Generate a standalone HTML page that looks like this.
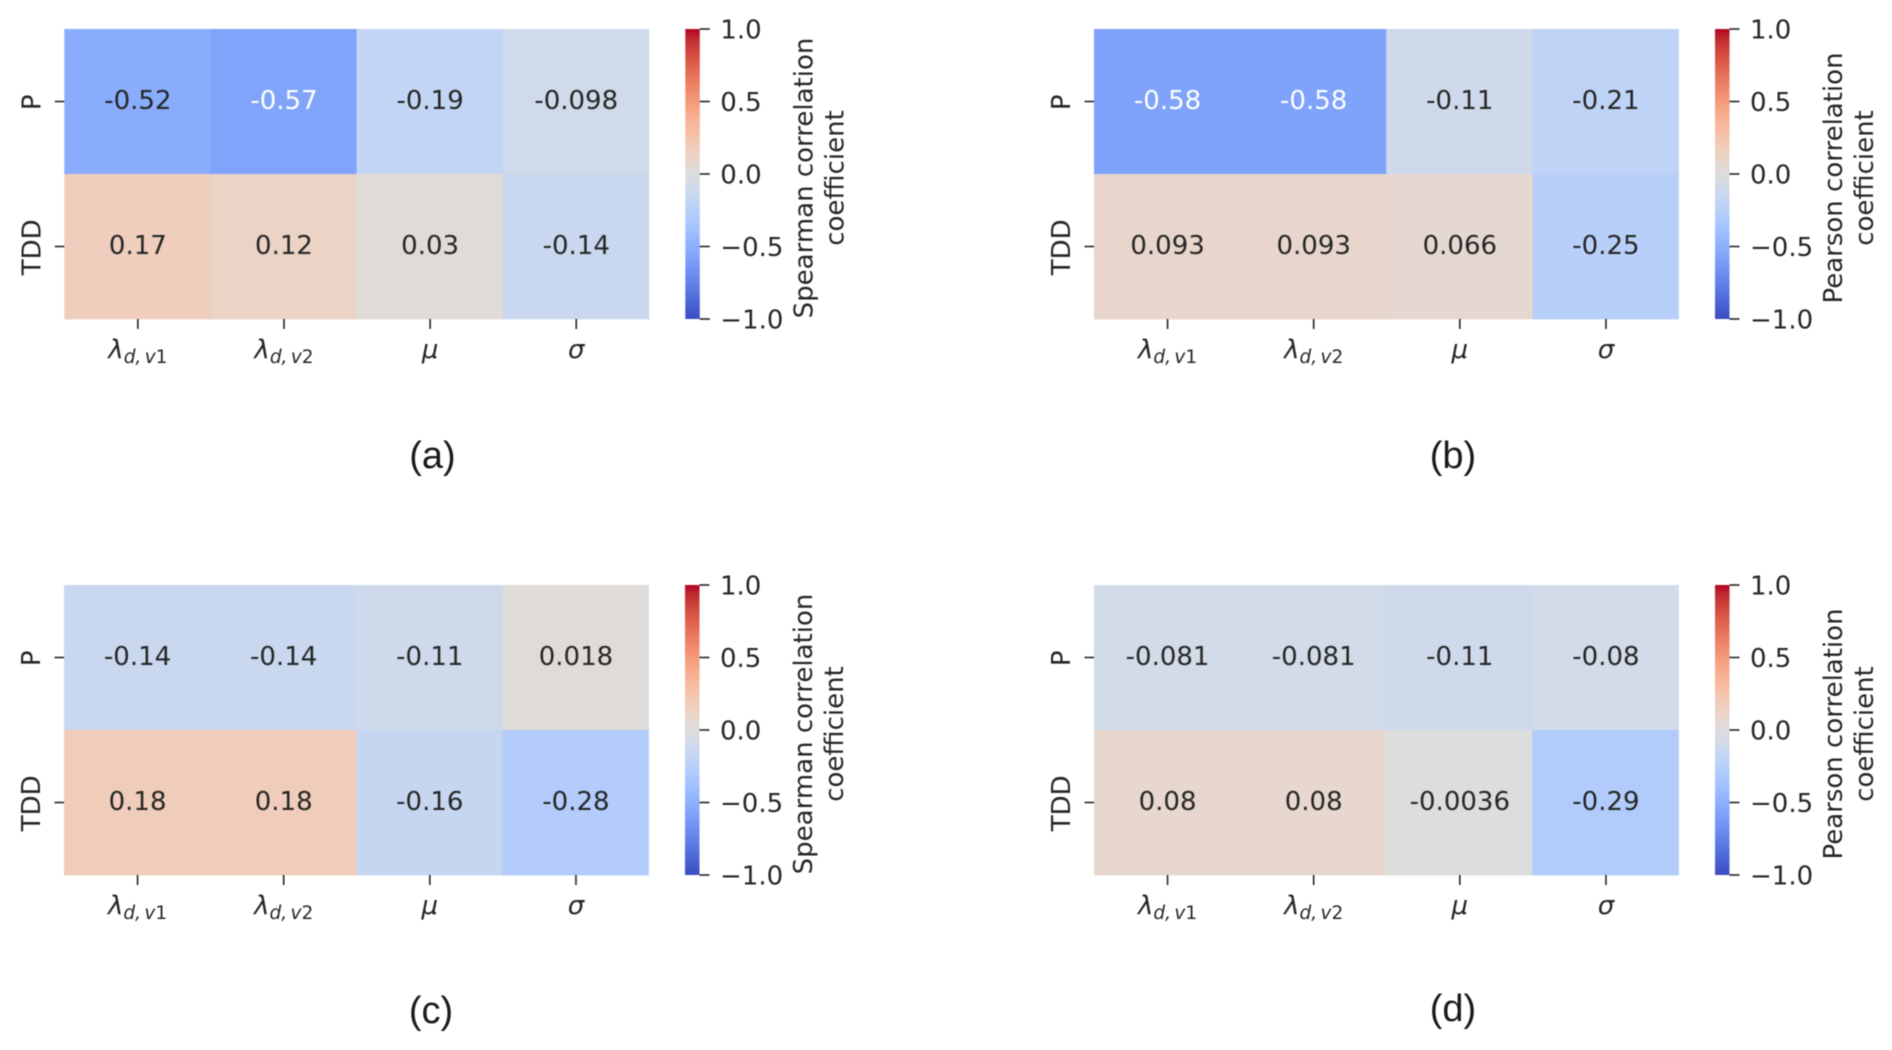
<!DOCTYPE html>
<html lang="en">
<head>
<meta charset="utf-8">
<title>Correlation heatmaps</title>
<style>
html,body{margin:0;padding:0;background:#fff;width:1892px;height:1050px;overflow:hidden}
svg{display:block}
text{font-family:"DejaVu Sans","Liberation Sans",sans-serif;fill:#262626}
.caption{font-family:"Liberation Sans",sans-serif;fill:#1a1a1a}
#figure{filter:blur(0.5px)}
</style>
</head>
<body>
<svg id="figure" xmlns="http://www.w3.org/2000/svg" width="1892" height="1050" viewBox="0 0 1892 1050">
<rect width="1892" height="1050" fill="#ffffff"/>
<defs>
<linearGradient id="cbar-grad" x1="0" y1="1" x2="0" y2="0"></linearGradient>
</defs>
</svg>
<script>
// ---- data ----
const rowLabels = ['P', 'TDD'];
const colLabels = ['lambda1', 'lambda2', 'mu', 'sigma'];
const colorbarTicks = [-1, -0.5, 0, 0.5, 1];
const spearmanA = [[-0.52, -0.57, -0.19, -0.098], [0.17, 0.12, 0.03, -0.14]];
const pearsonB = [[-0.58, -0.58, -0.11, -0.21], [0.093, 0.093, 0.066, -0.25]];
const spearmanC = [[-0.14, -0.14, -0.11, 0.018], [0.18, 0.18, -0.16, -0.28]];
const pearsonD = [[-0.081, -0.081, -0.11, -0.08], [0.08, 0.08, -0.0036, -0.29]];

// matplotlib coolwarm lookup
const cwR = [0.2298057,0.26623388,0.30386891,0.342804478,0.38301334,0.424369608,0.46666708,0.509635204,0.552953156,0.596262162,0.639176211,0.681291281,0.722193294,0.761464949,0.798691636,0.833466556,0.865395197,0.897787179,0.924127593,0.944468518,0.958852946,0.96732803,0.969954137,0.966811177,0.958003065,0.943660866,0.923944917,0.89904617,0.869186849,0.834620542,0.795631745,0.752534934,0.705673158];
const cwG = [0.298717966,0.353094838,0.406535296,0.458757618,0.50941904,0.558148092,0.604562568,0.648280772,0.688929332,0.726149107,0.759599947,0.788964712,0.813952739,0.834302879,0.849786142,0.860207984,0.86541021,0.848937047,0.827384882,0.800927443,0.769767752,0.734132809,0.694266682,0.650421156,0.602842431,0.551750968,0.49730856,0.439559467,0.378313092,0.312874446,0.24128379,0.157246067,0.01555616];
const cwB = [0.753683153,0.801466763,0.84495867,0.883725899,0.917387822,0.945619588,0.968154911,0.98478814,0.995375608,0.999836203,0.998151185,0.990363227,0.976574709,0.956945269,0.931689225,0.901068838,0.865395561,0.820880546,0.774508472,0.726736146,0.678007945,0.628751763,0.579375448,0.530263762,0.481775914,0.434243684,0.387970225,0.343229596,0.300267182,0.259301199,0.220525627,0.184115123,0.150232812];

const SVG_NS = 'http://www.w3.org/2000/svg';
const svg = document.getElementById('figure');

function make(tag, attrs, parent) {
  const node = document.createElementNS(SVG_NS, tag);
  for (const key in attrs) node.setAttribute(key, attrs[key]);
  parent.appendChild(node);
  return node;
}
function sample(table, t) {
  const p = Math.max(0, Math.min(1, t)) * (table.length - 1);
  const i = Math.min(Math.floor(p), table.length - 2);
  return table[i] + (table[i + 1] - table[i]) * (p - i);
}
function rgbAt(value) {
  const t = (value + 1) / 2;
  return [sample(cwR, t), sample(cwG, t), sample(cwB, t)];
}
function toCss(rgb) {
  return 'rgb(' + rgb.map(c => Math.round(c * 255)).join(',') + ')';
}
function luminance(rgb) {
  const lin = rgb.map(c => c <= 0.03928 ? c / 12.92 : Math.pow((c + 0.055) / 1.055, 2.4));
  return 0.2126 * lin[0] + 0.7152 * lin[1] + 0.0722 * lin[2];
}

// shared colorbar gradient
const gradient = document.getElementById('cbar-grad');
for (let i = 0; i < cwR.length; i++) {
  const t = i / (cwR.length - 1);
  make('stop', {offset: t, 'stop-color': toCss([cwR[i], cwG[i], cwB[i]])}, gradient);
}

function addMathLabel(group, index, cx, y) {
  const label = make('text', {x: cx, y: y, 'text-anchor': 'middle', 'font-size': 26, fill: '#262626'}, group);
  
  
  const key = colLabels[index];
  if (key === 'mu' || key === 'sigma') {
    const symbol = make('tspan', {'font-style': 'italic'}, label);
    symbol.textContent = key === 'mu' ? 'μ' : 'σ';
    return;
  }
  const lam = make('tspan', {'font-style': 'italic'}, label);
  lam.textContent = 'λ';
  const sub = make('tspan', {'font-style': 'italic', 'font-size': 18.5, dy: 5, style: 'word-spacing:-2.5px'}, label);
  sub.textContent = 'd, v';
  const num = make('tspan', {'font-size': 18.5}, label);
  num.textContent = key === 'lambda1' ? '1' : '2';
}

function drawPanel(name, values, barTitle, caption, left, top, captionX, captionY) {
  const plotWidth = 584.5, plotHeight = 290;
  const markShift = 0.5;
  const xBand = plotWidth / colLabels.length;
  const yBand = plotHeight / rowLabels.length;
  const xAt = c => left + c * xBand;
  const yAt = r => top + r * yBand;

  const group = make('g', {}, svg);
  
  

  values.forEach((row, r) => row.forEach((value, c) => {
    const rgb = rgbAt(value);
    const cell = make('rect', {x: xAt(c), y: yAt(r), width: xBand + 0.4, height: yBand + 0.4, fill: toCss(rgb)}, group);
    
    
    const note = make('text', {x: xAt(c) + xBand / 2 + markShift, y: yAt(r) + yBand / 2 + 7.5, 'text-anchor': 'middle', 'font-size': 26,
      style: 'fill:' + (luminance(rgb) < 0.408 ? '#ffffff' : '#262626')}, group);
    
    
    note.textContent = String(value);
  }));

  rowLabels.forEach((lab, r) => {
    const cy = yAt(r) + yBand / 2;
    const tick = make('line', {x1: left - 9.5, x2: left, y1: cy, y2: cy, stroke: '#262626', 'stroke-width': 1.6}, group);
    
    
    const text = make('text', {x: 0, y: 0, 'text-anchor': 'middle', 'font-size': 26,
      transform: 'translate(' + (left - 24) + ' ' + (cy + 0.8) + ') rotate(-90)'}, group);
    
    
    text.textContent = lab;
  });

  colLabels.forEach((lab, c) => {
    const cx = xAt(c) + xBand / 2 + markShift;
    const tick = make('line', {x1: cx, x2: cx, y1: top + plotHeight, y2: top + plotHeight + 10, stroke: '#262626', 'stroke-width': 1.6}, group);
    
    
    addMathLabel(group, c, cx, top + plotHeight + 39);
  });

  const barLeft = left + 621, barWidth = 14.5;
  const barY = v => top + plotHeight * (1 - (v + 1) / 2);
  const bar = make('rect', {x: barLeft, y: top, width: barWidth, height: plotHeight, fill: 'url(#cbar-grad)'}, group);
  
  
  colorbarTicks.forEach(v => {
    const y = barY(v);
    const tick = make('line', {x1: barLeft + barWidth, x2: barLeft + barWidth + 10, y1: y, y2: y, stroke: '#262626', 'stroke-width': 1.6}, group);
    
    
    const text = make('text', {x: barLeft + barWidth + 20.5, y: y + 9.5, 'font-size': 26}, group);
    
    
    text.textContent = v < 0 ? '\u2212' + Math.abs(v).toFixed(1) : v.toFixed(1);
  });

  const titleLine = make('text', {x: 0, y: 0, 'text-anchor': 'middle', 'font-size': 26,
    transform: 'translate(' + (left + 748) + ' ' + (top + 149) + ') rotate(-90)'}, group);
  
  
  titleLine.textContent = barTitle;
  const titleLine2 = make('text', {x: 0, y: 0, 'text-anchor': 'middle', 'font-size': 26,
    transform: 'translate(' + (left + 779) + ' ' + (top + 149) + ') rotate(-90)'}, group);
  
  
  titleLine2.textContent = 'coefficient';

  const cap = make('text', {x: captionX, y: captionY, 'text-anchor': 'middle', 'font-size': 38, class: 'caption'}, group);
  
  
  cap.textContent = caption;
}

drawPanel('heatmap-panel-a', spearmanA, 'Spearman correlation', '(a)', 64.3, 29, 432.5, 468);
drawPanel('heatmap-panel-b', pearsonB, 'Pearson correlation', '(b)', 1094, 29, 1453, 468);
drawPanel('heatmap-panel-c', spearmanC, 'Spearman correlation', '(c)', 64, 585, 431, 1023);
drawPanel('heatmap-panel-d', pearsonD, 'Pearson correlation', '(d)', 1094, 585, 1453, 1021);
</script>
</body>
</html>
